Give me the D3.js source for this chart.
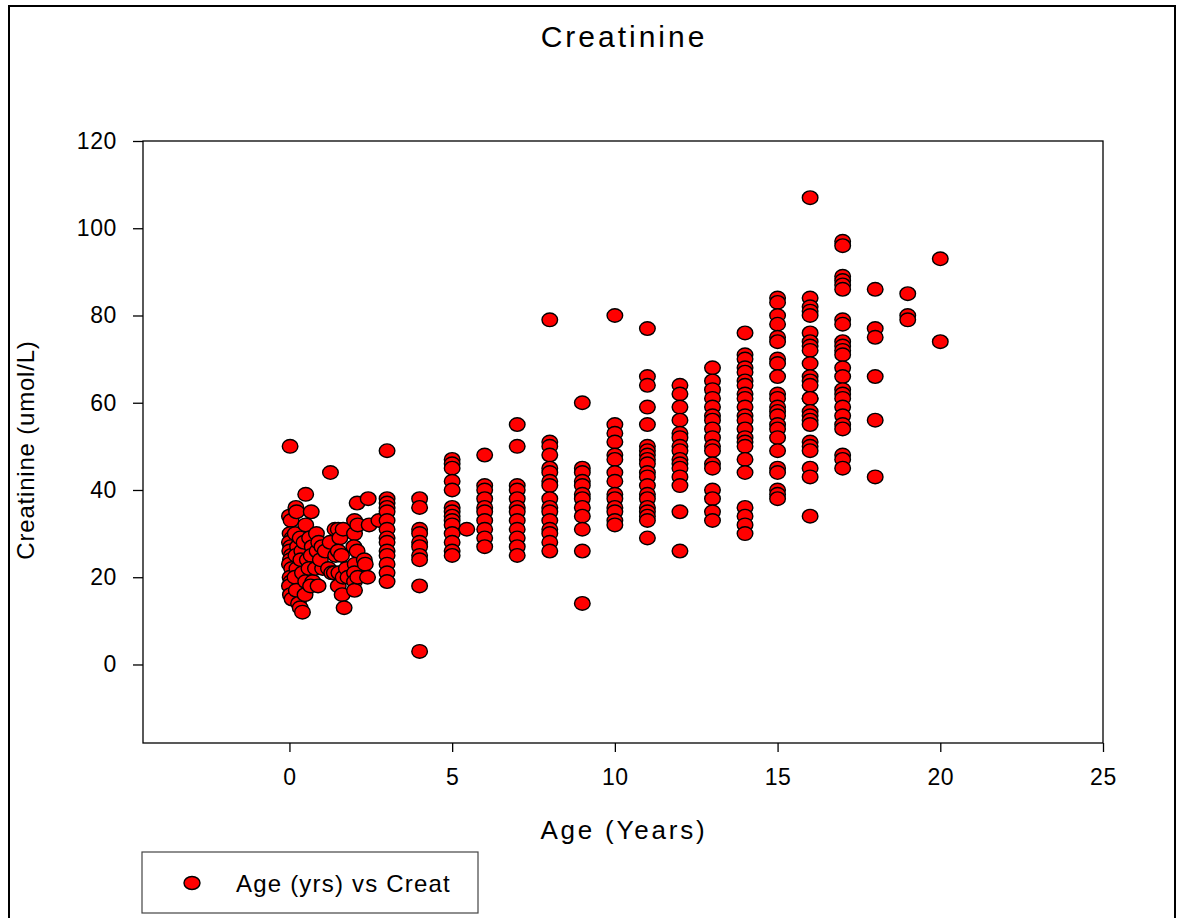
<!DOCTYPE html>
<html>
<head>
<meta charset="utf-8">
<script src="https://cdn.jsdelivr.net/npm/d3@7"></script>
<style>
  body { margin: 0; background: #fff; }
  text { font-family: "Liberation Sans", Arial, sans-serif; fill: #000; }
</style>
</head>
<body>
<script>
// Creatinine vs age

// whole-year ages and the creatinine values stacked at each of them
var wholeAges = [3, 4, 5, 6, 7, 8, 9, 10, 11, 12, 13, 14, 15, 16, 17, 18, 19, 20]
var creatByAge = [
  [49, 38, 37, 36, 35, 33, 31, 29, 28, 26, 25, 23, 21, 19],
  [38, 36, 31, 30, 28, 27, 25, 24, 18, 3],
  [47, 46, 45, 42, 40, 36, 35, 34, 33, 32, 30, 28, 26, 25],
  [48, 41, 40, 38, 36, 35, 33, 31, 29, 27],
  [55, 50, 41, 40, 38, 36, 35, 33, 31, 29, 27, 25],
  [79, 51, 50, 48, 45, 44, 42, 41, 38, 36, 35, 33, 31, 30, 28, 26],
  [60, 45, 44, 42, 41, 39, 38, 36, 34, 31, 26, 14],
  [80, 55, 53, 51, 48, 47, 44, 42, 39, 38, 36, 35, 33, 32],
  [77, 66, 64, 59, 55, 50, 49, 48, 47, 46, 44, 43, 41, 39, 38, 36, 35, 34, 33, 29],
  [64, 62, 59, 56, 53, 52, 50, 49, 47, 46, 45, 43, 41, 35, 26],
  [68, 65, 63, 61, 59, 57, 56, 54, 52, 50, 49, 46, 45, 40, 38, 35, 33],
  [76, 71, 70, 68, 67, 65, 64, 62, 61, 59, 57, 56, 54, 52, 51, 50, 47, 44, 36, 34, 32, 30],
  [84, 83, 80, 78, 75, 74, 70, 69, 66, 62, 61, 59, 58, 57, 55, 54, 52, 49, 45, 44, 40, 39, 38],
  [107, 84, 82, 81, 80, 76, 74, 73, 72, 69, 66, 65, 64, 61, 61, 58, 57, 56, 55, 51, 50, 49, 45, 43, 34],
  [97, 96, 89, 88, 87, 86, 79, 78, 74, 73, 72, 71, 68, 66, 63, 62, 61, 59, 57, 55, 54, 48, 47, 45],
  [86, 77, 75, 66, 56, 43],
  [85, 80, 79],
  [93, 74]
]

// infants and the odd fractional ages
var fracAges = [0.02, 0.0, 0.05, 0.02, 0.08, 0.0, 0.04, 0.01, 0.06, 0.03, 0.0, 0.07, 0.02, 0.05, 0.0, 0.03, 0.08,
  0.2, 0.22, 0.18, 0.25, 0.2, 0.23, 0.17, 0.21, 0.28,
  0.33, 0.38, 0.35, 0.4, 0.33, 0.4,
  0.5, 0.5, 0.45, 0.55, 0.5, 0.48,
  0.67, 0.62, 0.7, 0.67, 0.6, 0.72, 0.65,
  0.83, 0.85, 0.8, 0.88, 0.9,
  1.0, 1.02, 0.95, 1.1,
  1.26, 1.25, 1.2, 1.3,
  1.4, 1.42, 1.38,
  1.5, 1.55, 1.5, 1.52, 1.5,
  1.65, 1.6, 1.65, 1.62, 1.68,
  1.75, 1.8,
  2.0, 2.0, 1.98, 2.02, 2.0, 2.0, 2.0,
  2.08, 2.1, 2.08, 2.1,
  2.3, 2.33,
  2.42, 2.45, 2.4,
  2.75, 5.45]
var fracCreat = [50, 34, 33, 30, 29, 28, 27, 26, 25, 24, 23, 22, 20, 19, 18, 16, 15,
  36, 35, 30, 27, 25, 22, 20, 17, 14,
  29, 26, 24, 21, 13, 12,
  39, 32, 28, 24, 19, 16,
  35, 29, 27, 25, 22, 19, 18,
  30, 26, 22, 18, 28,
  27, 22, 24, 26,
  44, 28, 22, 21,
  31, 25, 21,
  31, 29, 26, 21, 18,
  31, 25, 20, 16, 13,
  22, 20,
  33, 30, 27, 23, 21, 19, 17,
  37, 32, 26, 20,
  24, 23,
  38, 32, 20,
  33, 31]

var xTicks = [0, 5, 10, 15, 20, 25]
var yTicks = [0, 20, 40, 60, 80, 100, 120]

window.onload = function() {
  var points = []
  fracAges.forEach(function(a, i) { points.push({age: a, creat: fracCreat[i]}) })
  wholeAges.forEach(function(a, i) {
    creatByAge[i].forEach(function(c) { points.push({age: a, creat: c}) })
  })

  var plot = {left: 143, right: 1103, top: 141, bottom: 743}

  var svg = d3.select("body").append("svg")
              .attr("width", 1178)
              .attr("height", 918)

  // outer page border
  svg.append("rect")
     .attr("x", 9).attr("y", 6)
     .attr("width", 1166).attr("height", 930)
     .attr("fill", "none")
     .attr("stroke", "#000")
     .attr("stroke-width", 2)

  var x = d3.scaleLinear().domain([-4.5, 25]).range([plot.left, plot.right])
  var y = d3.scaleLinear().domain([-18, 120]).range([plot.bottom, plot.top])

  // axes
  var xAxis = svg.append("g")
     .attr("transform", "translate(0," + plot.bottom + ")")
     .call(d3.axisBottom(x).tickValues(xTicks).tickSize(9).tickPadding(17))
  var yAxis = svg.append("g")
     .attr("transform", "translate(" + plot.left + ",0)")
     .call(d3.axisLeft(y).tickValues(yTicks).tickSize(10).tickPadding(16))

  ;[xAxis, yAxis].forEach(function(ax) {
    ax.select(".domain").remove()
    ax.selectAll("line").attr("stroke", "#000").attr("stroke-width", 1.3)
    ax.selectAll("text")
      .style("font-family", "Liberation Sans, Arial, sans-serif")
      .style("font-size", "23px")
      .style("letter-spacing", "0.6px")
      .attr("fill", "#000")
  })

  // plot frame
  svg.append("rect")
     .attr("x", plot.left).attr("y", plot.top)
     .attr("width", plot.right - plot.left)
     .attr("height", plot.bottom - plot.top)
     .attr("fill", "none")
     .attr("stroke", "#000")
     .attr("stroke-width", 1.3)

  // points
  svg.append("g")
     .selectAll("ellipse")
     .data(points)
     .enter().append("ellipse")
     .attr("cx", function(d) { return x(d.age) })
     .attr("cy", function(d) { return y(d.creat) })
     .attr("rx", 7.8)
     .attr("ry", 6.8)
     .attr("fill", "#ff0000")
     .attr("stroke", "#000")
     .attr("stroke-width", 1.4)

  // titles
  svg.append("text")
     .attr("x", (plot.left + plot.right) / 2 + 1)
     .attr("y", 47)
     .attr("text-anchor", "middle")
     .style("font-size", "30px")
     .style("letter-spacing", "3px")
     .text("Creatinine")

  svg.append("text")
     .attr("x", (plot.left + plot.right) / 2 + 1)
     .attr("y", 839)
     .attr("text-anchor", "middle")
     .style("font-size", "26px")
     .style("letter-spacing", "2.8px")
     .text("Age (Years)")

  svg.append("text")
     .attr("transform", "translate(34," + ((plot.top + plot.bottom) / 2 + 8) + ") rotate(-90)")
     .attr("text-anchor", "middle")
     .style("font-size", "24px")
     .style("letter-spacing", "0.8px")
     .text("Creatinine (umol/L)")

  // legend
  var legend = svg.append("g")
  legend.append("rect")
        .attr("x", 142).attr("y", 852)
        .attr("width", 336).attr("height", 61)
        .attr("fill", "#fff")
        .attr("stroke", "#444")
        .attr("stroke-width", 1.2)
  legend.append("ellipse")
        .attr("cx", 192).attr("cy", 883)
        .attr("rx", 8).attr("ry", 6.5)
        .attr("fill", "#ff0000")
        .attr("stroke", "#000")
        .attr("stroke-width", 1.4)
  legend.append("text")
        .attr("x", 236).attr("y", 892)
        .style("font-size", "24px")
        .style("letter-spacing", "1.2px")
        .text("Age (yrs) vs Creat")
}
</script>
</body>
</html>
